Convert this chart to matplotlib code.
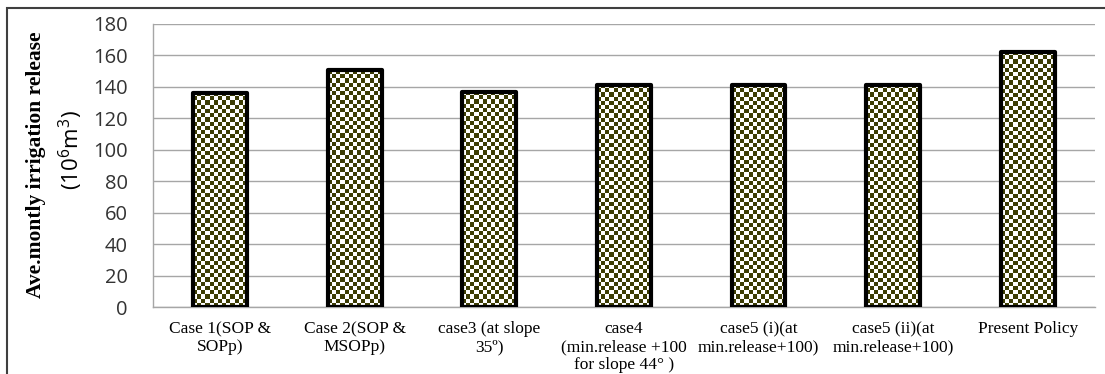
import numpy as np
import matplotlib
matplotlib.use('Agg')
import matplotlib.pyplot as plt
from matplotlib.colors import ListedColormap
from matplotlib.patches import Rectangle

cases = ['Case 1(SOP &\nSOPp)', 'Case 2(SOP &\nMSOPp)', 'case3 (at slope\n35º)',
         'case4\n(min.release +100\nfor slope 44° )', 'case5 (i)(at\nmin.release+100)',
         'case5 (ii)(at\nmin.release+100)', 'Present Policy']
release = [136, 150.5, 137, 141.5, 141.5, 141.5, 162.5]
yticks = list(range(0, 181, 20))

plt.rcParams['mathtext.fontset'] = 'custom'
plt.rcParams['mathtext.rm'] = 'Open Sans'

W, H = 1105, 374
fig = plt.figure(figsize=(W / 100, H / 100), dpi=100)
ax = fig.add_axes([152.7 / W, 1 - 307.3 / H, (1095 - 152.7) / W, (307.3 - 24) / H])

x = np.arange(len(cases))
ax.set_xlim(-0.5, len(cases) - 0.5)
ax.set_ylim(0, 180)

bars = ax.bar(x, release, width=0.40, facecolor='none', edgecolor='black',
              linewidth=3, joinstyle='round', zorder=3)

# checkerboard fill, clipped to each bar
checker = ListedColormap(['white', '#3c3c04'])
cell = 4.2
for rect in bars:
    x0, y0 = rect.get_x(), rect.get_y()
    w, h = rect.get_width(), rect.get_height()
    p0 = ax.transData.transform((x0, y0))
    p1 = ax.transData.transform((x0 + w, y0 + h))
    nx = max(1, int(round((p1[0] - p0[0]) / cell)))
    ny = max(1, int(round((p1[1] - p0[1]) / cell)))
    grid = np.add.outer(np.arange(ny), np.arange(nx)) % 2
    im = ax.imshow(grid, cmap=checker, extent=(x0, x0 + w, y0, y0 + h), origin='lower',
                   interpolation='nearest', aspect='auto', zorder=2)
    im.set_clip_path(rect)

ax.set_xlim(-0.5, len(cases) - 0.5)
ax.set_ylim(0, 180)
ax.set_yticks(yticks)
ax.set_xticks(x)
ax.set_xticklabels(cases, family='Liberation Serif', fontsize=12.5, linespacing=1.15)
for lab in ax.get_yticklabels():
    lab.set_family('Open Sans')
    lab.set_fontsize(14.5)
    lab.set_color('#333333')
ax.tick_params(axis='y', length=0, pad=18)
ax.tick_params(axis='x', length=0, pad=10)

ax.yaxis.grid(True, color='#a6a6a6', linewidth=1)
ax.set_axisbelow(True)
for side in ['top', 'right']:
    ax.spines[side].set_visible(False)
for side in ['left', 'bottom']:
    ax.spines[side].set_color('#a6a6a6')
    ax.spines[side].set_linewidth(1)

fig.text(36 / W, 1 - 165 / H, 'Ave.montly irrigation release', rotation=90,
         ha='center', va='center', family='Liberation Serif', weight='bold', fontsize=15.5)
fig.text(71 / W, 1 - 150 / H, '(10$^{6}$m$^{3}$)', rotation=90,
         ha='center', va='center', family='Open Sans', fontsize=16)

# outer chart frame
fig.add_artist(Rectangle((7 / W, -0.1), 1.2, 1 - 8 / H + 0.1, transform=fig.transFigure,
                         fill=False, edgecolor='#3f3f3f', linewidth=1.5))

fig.savefig('out.png', dpi=100)
